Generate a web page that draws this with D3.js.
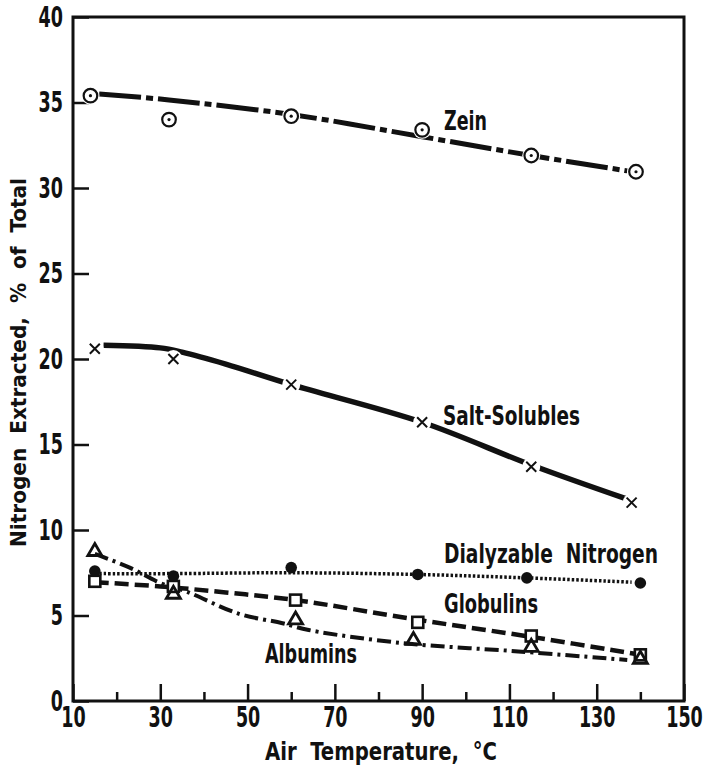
<!DOCTYPE html>
<html>
<head>
<meta charset="utf-8">
<script src="https://cdn.jsdelivr.net/npm/d3@7"></script>
<style>
  body { margin: 0; background: #fff; }
  svg text { font-family: "Liberation Sans Narrow", "DejaVu Sans Condensed", "Arial Narrow", sans-serif; font-weight: bold; fill: #111; }
</style>
</head>
<body>
<div class="main-container"></div>
<script>
// measured points
const zeinT = [14, 32, 60, 90, 115, 139];
const zeinN = [35.4, 34.0, 34.2, 33.4, 31.9, 30.95];
const saltT = [15, 33, 60, 90, 115, 138];
const saltN = [20.6, 20.0, 18.5, 16.3, 13.7, 11.6];
const dialT = [15, 33, 60, 89, 114, 140];
const dialN = [7.6, 7.3, 7.8, 7.4, 7.2, 6.9];
const globT = [15, 33, 61, 89, 115, 140];
const globN = [7.0, 6.7, 5.9, 4.6, 3.8, 2.7];
const albT = [15, 33, 61, 88, 115, 140];
const albN = [8.8, 6.3, 4.8, 3.6, 3.2, 2.5];

// drawn curves
const zeinFitT = [16, 32, 60, 90, 115, 137];
const zeinFitN = [35.5, 35.15, 34.3, 33.0, 31.9, 31.0];
const saltFitT = [17, 30, 35, 45, 60, 90, 115, 137];
const saltFitN = [20.8, 20.65, 20.4, 19.7, 18.5, 16.3, 13.8, 11.8];
const dialFitT = [15, 33, 60, 89, 114, 138];
const dialFitN = [7.45, 7.45, 7.5, 7.4, 7.2, 6.95];
const globFitT = [15, 30, 45, 61, 89, 115, 139];
const globFitN = [6.95, 6.7, 6.35, 5.9, 4.75, 3.75, 2.75];
const albFitT = [15, 23, 30, 36, 48, 58, 64, 85, 112, 137];
const albFitN = [8.6, 7.8, 6.9, 6.4, 5.1, 4.55, 4.15, 3.4, 2.9, 2.4];

const xMajor = [10, 30, 50, 70, 90, 110, 130, 150];
const xMinor = [20, 40, 60, 80, 100, 120, 140];
const yTicks = [0, 5, 10, 15, 20, 25, 30, 35, 40];

const width = 704, height = 765;
const x = d3.scaleLinear().domain([10, 150]).range([73, 684]);
const y = d3.scaleLinear().domain([0, 40]).range([701, 17]);

const svg = d3.select('.main-container').append('svg')
    .attr('width', width).attr('height', height);

const zip = (a, b) => a.map((d, i) => [d, b[i]]);
const line = d3.line().x(d => x(d[0])).y(d => y(d[1])).curve(d3.curveCatmullRom);

// frame
svg.append('rect')
    .attr('x', x(10)).attr('y', y(40))
    .attr('width', x(150) - x(10)).attr('height', y(0) - y(40))
    .attr('fill', 'none').attr('stroke', '#111').attr('stroke-width', 3);

// x axis, ticks pointing inward
const gx = svg.append('g').attr('transform', `translate(0,${y(0)})`)
    .call(d3.axisBottom(x).tickValues(xMajor).tickSize(-17).tickPadding(11).tickFormat(d3.format('d')));
svg.append('g').attr('transform', `translate(0,${y(0)})`)
    .call(d3.axisBottom(x).tickValues(xMinor).tickSize(-9).tickFormat(''));
const gy = svg.append('g').attr('transform', `translate(${x(10)},0)`)
    .call(d3.axisLeft(y).tickValues(yTicks).tickSize(-16).tickPadding(10).tickFormat(d3.format('d')));

svg.selectAll('.domain').remove();
svg.selectAll('.tick line').attr('stroke', '#111').attr('stroke-width', 2.5);
svg.selectAll('.tick text').attr('font-size', 29).attr('fill', '#111')
    .attr('textLength', function() { return this.textContent.length * 12.2; })
    .attr('lengthAdjust', 'spacingAndGlyphs');
gx.selectAll('.tick text').attr('dy', '0.5em');

// curves
const curves = [
    {pts: zip(zeinFitT, zeinFitN), w: 5, dash: '42,5,7,5'},
    {pts: zip(saltFitT, saltFitN), w: 5.5, dash: null},
    {pts: zip(dialFitT, dialFitN), w: 3.5, dash: '2.5,2'},
    {pts: zip(globFitT, globFitN), w: 4.5, dash: '14,6'},
    {pts: zip(albFitT, albFitN), w: 4, dash: '14,5,3,5'}
];
curves.forEach(c => {
    svg.append('path').attr('d', line(c.pts))
        .attr('fill', 'none').attr('stroke', '#111')
        .attr('stroke-width', c.w)
        .attr('stroke-dasharray', c.dash);
});

// gaps in solid lines around markers
svg.append('g').selectAll('circle').data(zip(saltT, saltN).concat(zip(zeinT, zeinN)))
    .join('circle')
    .attr('cx', d => x(d[0])).attr('cy', d => y(d[1])).attr('r', 9)
    .attr('fill', '#fff');

// markers
const mk = svg.append('g').attr('stroke', '#111').attr('stroke-width', 2.2);

mk.selectAll('.zein').data(zip(zeinT, zeinN)).join('circle')
    .attr('cx', d => x(d[0])).attr('cy', d => y(d[1])).attr('r', 6.8).attr('fill', '#fff');
mk.selectAll('.zdot').data(zip(zeinT, zeinN)).join('circle')
    .attr('cx', d => x(d[0])).attr('cy', d => y(d[1])).attr('r', 1.6).attr('fill', '#111').attr('stroke', 'none');

mk.selectAll('.salt').data(zip(saltT, saltN)).join('path')
    .attr('d', d => {
        const cx = x(d[0]), cy = y(d[1]), s = 5;
        return `M${cx - s},${cy - s}L${cx + s},${cy + s}M${cx - s},${cy + s}L${cx + s},${cy - s}`;
    })
    .attr('stroke-width', 2);

mk.selectAll('.glob').data(zip(globT, globN)).join('rect')
    .attr('x', d => x(d[0]) - 5.5).attr('y', d => y(d[1]) - 5.5)
    .attr('width', 11).attr('height', 11).attr('fill', '#fff').attr('stroke-width', 2.6);

mk.selectAll('.alb').data(zip(albT, albN)).join('path')
    .attr('d', d => {
        const cx = x(d[0]), cy = y(d[1]);
        return `M${cx},${cy - 7}L${cx + 7},${cy + 5}L${cx - 7},${cy + 5}Z`;
    })
    .attr('fill', 'none').attr('stroke-width', 2.8);

mk.selectAll('.dial').data(zip(dialT, dialN)).join('circle')
    .attr('cx', d => x(d[0])).attr('cy', d => y(d[1])).attr('r', 5.8)
    .attr('fill', '#111').attr('stroke', 'none');

// series labels
const labels = [
    {t: 'Zein', x: 444, y: 130, w: 43},
    {t: 'Salt-Solubles', x: 443, y: 425, w: 137},
    {t: 'Dialyzable  Nitrogen', x: 444, y: 563, w: 214},
    {t: 'Globulins', x: 444, y: 613, w: 94},
    {t: 'Albumins', x: 265, y: 663, w: 92}
];
svg.append('g').selectAll('text').data(labels).join('text')
    .attr('x', d => d.x).attr('y', d => d.y)
    .attr('font-size', 27)
    .attr('textLength', d => d.w).attr('lengthAdjust', 'spacingAndGlyphs')
    .style('white-space', 'pre')
    .text(d => d.t);

// axis titles
svg.append('text')
    .attr('x', 265).attr('y', 760)
    .attr('font-size', 24)
    .attr('textLength', 232).attr('lengthAdjust', 'spacingAndGlyphs')
    .style('white-space', 'pre')
    .text('Air  Temperature,  °C');

svg.append('text')
    .attr('transform', 'translate(26,547) rotate(-90)')
    .attr('font-size', 22)
    .attr('textLength', 369).attr('lengthAdjust', 'spacingAndGlyphs')
    .style('white-space', 'pre')
    .text('Nitrogen  Extracted,  %  of  Total');
</script>
</body>
</html>
